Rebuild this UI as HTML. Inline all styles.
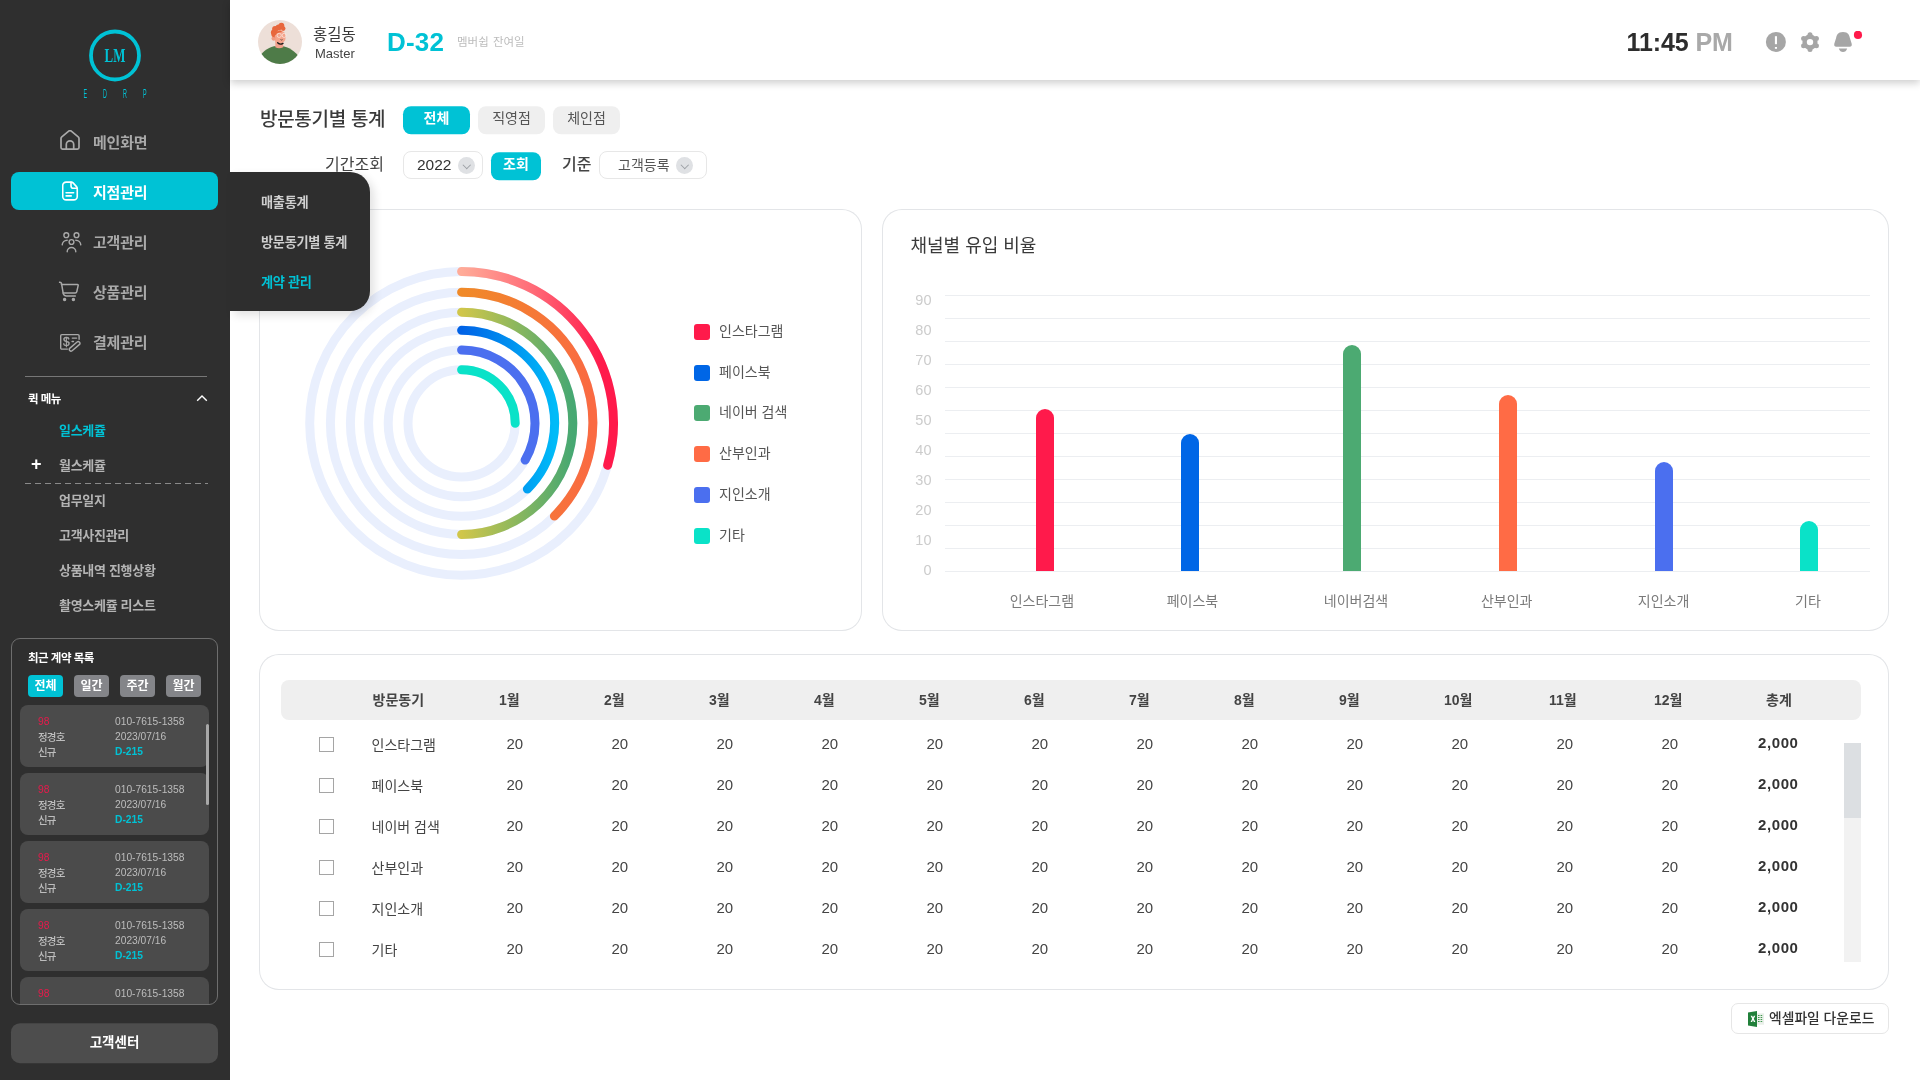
<!DOCTYPE html>
<html lang="ko">
<head>
<meta charset="utf-8">
<title>방문통기별 통계</title>
<style>
*{box-sizing:border-box;margin:0;padding:0}
html,body{width:1920px;height:1080px;overflow:hidden;background:#fff}
body{position:relative;will-change:transform;font-family:"Liberation Sans","Noto Sans CJK KR",sans-serif;color:#333}
.a{position:absolute}
.k{font-family:"Liberation Sans","Noto Sans CJK KR",sans-serif;transform:translateY(0.09em)}
.lk{font-family:"Liberation Sans","Noto Sans CJK KR",sans-serif}
/* sidebar */
#side{left:0;top:0;width:230px;height:1080px;background:#2f2f2f}
.nav{left:11px;width:207px;height:38px;border-radius:8px}
.nav.on{background:#00c2d5}
.nav svg{position:absolute;left:49.5px;top:9px}
.nav span{position:absolute;left:82px;top:1px;line-height:38px;font-size:15px;font-weight:700;color:#a9a9a9;letter-spacing:-0.2px}
.nav.on span{color:#fff}
.qm{left:59px;font-size:13px;font-weight:700;color:#b4b4b4;line-height:20px;letter-spacing:-0.3px}
.tab{top:674px;width:35px;height:22px;border-radius:4px;background:#848589;color:#fff;font-size:12px;font-weight:700;text-align:center;line-height:22px}
.card{left:8px;width:189px;height:62px;border-radius:8px;background:#4b4b4b}
.card div{position:absolute;font-size:11.5px;line-height:15px;color:#bdbdbd;font-weight:500;letter-spacing:0}
.card div.lk{transform:scaleX(0.89);transform-origin:0 0}
.card div.k{font-size:10.5px;letter-spacing:-0.8px}
/* popup */
#pop{left:230px;top:172px;width:140px;height:139px;background:#2e2e2e;border-radius:0 20px 20px 0;box-shadow:4px 4px 10px rgba(0,0,0,0.12)}
#pop div{position:absolute;left:31px;font-size:13.2px;font-weight:700;color:#cfcfcf;line-height:20px;letter-spacing:-0.3px}
.btn{width:67px;height:28px;border-radius:8px;background:#efefef;color:#555;font-size:14px;line-height:25px;text-align:center}
.btn.on{background:#00c2d5;color:#fff;font-weight:700}
.sel{height:28px;border:1px solid #e7e7e7;border-radius:8px;background:#fff}
.sel span{position:absolute;top:0;line-height:26px;color:#333}
.sel i{position:absolute;top:5px;width:17px;height:17px;border-radius:50%;background:#dfe1e4}
.sel i:after{content:"";position:absolute;left:5.5px;top:4.5px;width:4.5px;height:4.5px;border-right:1.2px solid #9a9ea3;border-bottom:1.2px solid #9a9ea3;transform:rotate(45deg)}
.cardbox{box-shadow:inset 0 0 0 1px #e3e5e8;border-radius:20px;background:#fff}
.lg{font-size:14px;line-height:22px;color:#555}
.xl{width:100px;text-align:center;font-size:14px;line-height:22px;color:#7a7a7a}
.th{font-size:14px;line-height:38px;font-weight:700;color:#444;white-space:nowrap}
.td{font-size:14px;line-height:22px;color:#444;white-space:nowrap}
.cb{width:15px;height:15px;border:1px solid #a5a5a5;background:#fff}
/* header */
#hdr{left:230px;top:0;width:1690px;height:80px;background:#fff;box-shadow:0 3px 8px rgba(0,0,0,0.2)}
</style>
</head>
<body>
<div id="side" class="a">
  <svg class="a" style="left:0;top:0" width="230" height="110">
    <circle cx="115" cy="55.5" r="24" fill="none" stroke="#00c2d5" stroke-width="3.8"/>
    <text x="115" y="62" text-anchor="middle" font-family="Liberation Serif,serif" font-weight="700" font-size="19" fill="#00c2d5" transform="translate(115 0) scale(0.68 1) translate(-115 0)">LM</text>
    <text transform="translate(83.6 98) scale(0.42 1)" font-family="Liberation Sans,sans-serif" font-size="12.8" fill="#00c2d5">E</text><text transform="translate(102.9 98) scale(0.42 1)" font-family="Liberation Sans,sans-serif" font-size="12.8" fill="#00c2d5">D</text><text transform="translate(122.9 98) scale(0.42 1)" font-family="Liberation Sans,sans-serif" font-size="12.8" fill="#00c2d5">R</text><text transform="translate(142.9 98) scale(0.42 1)" font-family="Liberation Sans,sans-serif" font-size="12.8" fill="#00c2d5">P</text>
  </svg>
  <div class="a nav" style="top:122px">
    <svg style="left:49px;top:8px" width="20" height="20" viewBox="0 0 20 20" fill="none" stroke="#a9a9a9" stroke-width="1.7" stroke-linejoin="round"><path d="M1 8.6 Q1 7.6 1.8 6.9 L9 0.95 Q10 0.2 11 0.95 L18.2 6.9 Q19 7.6 19 8.6 V17.6 Q19 19.1 17.5 19.1 H2.5 Q1 19.1 1 17.6 Z"/><path d="M6.3 19 V14.5 a3.7 3.7 0 0 1 7.4 0 V19"/></svg>
    <span class="k">메인화면</span>
  </div>
  <div class="a nav on" style="top:172px">
    <svg style="top:9px;left:51px" width="17" height="20" viewBox="0 0 17 20" fill="none" stroke="#fff" stroke-width="1.6" stroke-linejoin="round" stroke-linecap="round"><path d="M4.2 1.1 H9.2 Q10.3 1.1 11.1 1.9 L14.5 5.6 Q15.25 6.4 15.25 7.6 V15.4 A3.5 3.5 0 0 1 11.75 18.9 H4.2 A3.5 3.5 0 0 1 0.7 15.4 V4.6 A3.5 3.5 0 0 1 4.2 1.1 Z"/><path d="M9 1.3 V5 A2.3 2.3 0 0 0 11.3 7.3 H15"/><path d="M4.1 11.7 H11.6"/><path d="M4.1 14.9 H9.2"/></svg>
    <span class="k">지점관리</span>
  </div>
  <div class="a nav" style="top:222px">
    <svg width="21" height="22" viewBox="0 0 21 22" fill="none" stroke="#a9a9a9" stroke-width="1.4" stroke-linecap="round"><circle cx="5.3" cy="4.2" r="2.4"/><circle cx="15.5" cy="4.2" r="2.4"/><circle cx="10.5" cy="11" r="2.4"/><path d="M1.2 13.9 A5 5 0 0 1 6.2 9.3"/><path d="M14.8 9.3 A5 5 0 0 1 19.8 13.9"/><path d="M6.2 20.8 A4.3 4.3 0 0 1 14.8 20.8"/></svg>
    <span class="k">고객관리</span>
  </div>
  <div class="a nav" style="top:272px">
    <svg style="left:47px" width="21" height="21" viewBox="0 0 21 21" fill="none" stroke="#a9a9a9" stroke-width="1.5" stroke-linecap="round" stroke-linejoin="round"><path d="M1.6 1.3 Q3.2 1.1 3.6 2.8 L5.2 12.4 Q5.7 14.9 8.4 14.9 H17.3"/><path d="M3.4 3.6 H19.6 a0.6 0.6 0 0 1 0.6 0.7 L18.8 10.6 a1.6 1.6 0 0 1 -1.6 1.3 H5.2"/><circle cx="6.6" cy="18.5" r="1" fill="#a9a9a9"/><circle cx="15.4" cy="18.5" r="1" fill="#a9a9a9"/></svg>
    <span class="k">상품관리</span>
  </div>
  <div class="a nav" style="top:322px">
    <svg style="left:49px;top:11px" width="21" height="20" viewBox="0 0 21 20" fill="none" stroke="#a9a9a9" stroke-width="1.4" stroke-linecap="round" stroke-linejoin="round"><path d="M7.4 16.1 H1.9 Q0.7 16.1 0.7 14.9 V2.8 Q0.7 1.6 1.9 1.6 H17.9 Q19.1 1.6 19.1 2.8 V6.3"/><text x="3" y="13" font-family="Liberation Sans,sans-serif" font-size="12" fill="#a9a9a9" stroke="#a9a9a9" stroke-width="0.35">$</text><path d="M12.3 5.1 H16.6"/><path d="M12.1 8.5 H13.4"/><rect x="-6.4" y="-1.7" width="12.8" height="3.4" rx="1.7" transform="translate(14.6 13.4) rotate(-40.4)"/></svg>
    <span class="k">결제관리</span>
  </div>
  <div class="a" style="left:25px;top:376px;width:182px;height:1px;background:#777"></div>
  <div class="a k" style="left:28px;top:389.3px;font-size:11.5px;font-weight:700;color:#fff;line-height:18px;letter-spacing:-0.5px">퀵 메뉴</div>
  <svg class="a" style="left:196px;top:393px" width="12" height="10" viewBox="0 0 12 10" fill="none" stroke="#fff" stroke-width="1.4"><path d="M1.2 7.8 L6 3 L10.8 7.8"/></svg>
  <div class="a qm k" style="top:420px;color:#00c2d5">일스케쥴</div>
  <div class="a" style="left:31px;top:455px;font-size:18px;font-weight:700;color:#fff;line-height:18px">+</div>
  <div class="a qm k" style="top:455px">월스케쥴</div>
  <svg class="a" style="left:25px;top:483px" width="183" height="1"><line x1="0" y1="0.5" x2="183" y2="0.5" stroke="#8a8a8a" stroke-width="1" stroke-dasharray="6 4"/></svg>
  <div class="a qm k" style="top:490px">업무일지</div>
  <div class="a qm k" style="top:525px">고객사진관리</div>
  <div class="a qm k" style="top:560px">상품내역 진행상황</div>
  <div class="a qm k" style="top:595px">촬영스케쥴 리스트</div>

  <div class="a" style="left:11px;top:638px;width:207px;height:367px;border:1px solid #6e6e6e;border-radius:9px;overflow:hidden">
    <div class="a k" style="left:16px;top:9.5px;font-size:11.5px;font-weight:700;color:#fff;line-height:16px;letter-spacing:-0.5px">최근 계약 목록</div>
    <div class="a tab k" style="left:16px;top:35px;background:#00c2d5">전체</div>
    <div class="a tab k" style="left:62px;top:35px">일간</div>
    <div class="a tab k" style="left:108px;top:35px">주간</div>
    <div class="a tab k" style="left:154px;top:35px">월간</div>
    <div class="a card" style="top:66px">
      <div class="lk" style="left:18px;top:9px;color:#e8194b">98</div>
      <div class="k" style="left:18px;top:24px">정경호</div>
      <div class="k" style="left:18px;top:39px">신규</div>
      <div class="lk" style="left:94.5px;top:9px">010-7615-1358</div>
      <div class="lk" style="left:94.5px;top:24px">2023/07/16</div>
      <div class="lk" style="left:94.5px;top:39px;color:#00c2d5;font-weight:600">D-215</div>
    </div>
    <div class="a card" style="top:134px">
      <div class="lk" style="left:18px;top:9px;color:#e8194b">98</div>
      <div class="k" style="left:18px;top:24px">정경호</div>
      <div class="k" style="left:18px;top:39px">신규</div>
      <div class="lk" style="left:94.5px;top:9px">010-7615-1358</div>
      <div class="lk" style="left:94.5px;top:24px">2023/07/16</div>
      <div class="lk" style="left:94.5px;top:39px;color:#00c2d5;font-weight:600">D-215</div>
    </div>
    <div class="a card" style="top:202px">
      <div class="lk" style="left:18px;top:9px;color:#e8194b">98</div>
      <div class="k" style="left:18px;top:24px">정경호</div>
      <div class="k" style="left:18px;top:39px">신규</div>
      <div class="lk" style="left:94.5px;top:9px">010-7615-1358</div>
      <div class="lk" style="left:94.5px;top:24px">2023/07/16</div>
      <div class="lk" style="left:94.5px;top:39px;color:#00c2d5;font-weight:600">D-215</div>
    </div>
    <div class="a card" style="top:270px">
      <div class="lk" style="left:18px;top:9px;color:#e8194b">98</div>
      <div class="k" style="left:18px;top:24px">정경호</div>
      <div class="k" style="left:18px;top:39px">신규</div>
      <div class="lk" style="left:94.5px;top:9px">010-7615-1358</div>
      <div class="lk" style="left:94.5px;top:24px">2023/07/16</div>
      <div class="lk" style="left:94.5px;top:39px;color:#00c2d5;font-weight:600">D-215</div>
    </div>
    <div class="a card" style="top:338px">
      <div class="lk" style="left:18px;top:9px;color:#e8194b">98</div>
      <div class="lk" style="left:94.5px;top:9px">010-7615-1358</div>
    </div>
    <div class="a" style="left:194px;top:85px;width:3px;height:81px;border-radius:2px;background:#a8a8a8"></div>
  </div>
  <div class="a k" style="left:11px;top:1022px;width:207px;height:40px;border-radius:9px;background:#4d4d4d;color:#fff;font-size:13.5px;font-weight:700;text-align:center;line-height:40px">고객센터</div>
</div>

<div class="a cardbox" style="left:259px;top:209px;width:603px;height:422px">
<svg class="a" style="left:0;top:0" width="603" height="422"><defs>
<linearGradient id="g0" gradientUnits="userSpaceOnUse" x1="202.60000000000002" y1="0" x2="342.6" y2="0"><stop offset="0" stop-color="#ffab98"/><stop offset="0.5" stop-color="#ff6c78"/><stop offset="1" stop-color="#ff1a4b"/></linearGradient>
<linearGradient id="g1" gradientUnits="userSpaceOnUse" x1="202.60000000000002" y1="0" x2="332.6" y2="0"><stop offset="0" stop-color="#f08a28"/><stop offset="1" stop-color="#fa6a42"/></linearGradient>
<linearGradient id="g2" gradientUnits="userSpaceOnUse" x1="202.60000000000002" y1="0" x2="313.6" y2="0"><stop offset="0" stop-color="#d0c64a"/><stop offset="1" stop-color="#46a872"/></linearGradient>
<linearGradient id="g3" gradientUnits="userSpaceOnUse" x1="202.60000000000002" y1="0" x2="295.6" y2="0"><stop offset="0" stop-color="#0062e6"/><stop offset="1" stop-color="#00bbf8"/></linearGradient>
</defs>
<circle cx="202.60" cy="214.35" r="151.9" fill="none" stroke="#e9effd" stroke-width="9"/><circle cx="202.60" cy="214.35" r="131.2" fill="none" stroke="#e9effd" stroke-width="9"/><circle cx="202.60" cy="214.35" r="111.2" fill="none" stroke="#e9effd" stroke-width="9"/><circle cx="202.60" cy="214.35" r="93.0" fill="none" stroke="#e9effd" stroke-width="9"/><circle cx="202.60" cy="214.35" r="73.4" fill="none" stroke="#e9effd" stroke-width="9"/><circle cx="202.60" cy="214.35" r="53.6" fill="none" stroke="#e9effd" stroke-width="9"/><path d="M202.60 62.45 A151.9 151.9 0 0 1 348.62 256.22" fill="none" stroke="url(#g0)" stroke-width="9" stroke-linecap="round"/><path d="M202.60 83.15 A131.2 131.2 0 0 1 295.37 307.12" fill="none" stroke="url(#g1)" stroke-width="9" stroke-linecap="round"/><path d="M202.60 103.15 A111.2 111.2 0 0 1 313.80 214.35 A111.2 111.2 0 0 1 202.60 325.55" fill="none" stroke="url(#g2)" stroke-width="9" stroke-linecap="round"/><path d="M202.60 121.35 A93.0 93.0 0 0 1 268.36 280.11" fill="none" stroke="url(#g3)" stroke-width="9" stroke-linecap="round"/><path d="M202.60 140.95 A73.4 73.4 0 0 1 266.17 251.05" fill="none" stroke="#4b6fef" stroke-width="9" stroke-linecap="round"/><path d="M202.60 160.75 A53.6 53.6 0 0 1 256.20 214.35" fill="none" stroke="#0ae2c8" stroke-width="9" stroke-linecap="round"/>
</svg>
<div class="a" style="left:435px;top:115.0px;width:16px;height:16px;border-radius:3px;background:#ff1a4b"></div><div class="a k lg" style="left:460px;top:110.0px">인스타그램</div>
<div class="a" style="left:435px;top:155.7px;width:16px;height:16px;border-radius:3px;background:#0066e6"></div><div class="a k lg" style="left:460px;top:150.7px">페이스북</div>
<div class="a" style="left:435px;top:196.4px;width:16px;height:16px;border-radius:3px;background:#4caa72"></div><div class="a k lg" style="left:460px;top:191.4px">네이버 검색</div>
<div class="a" style="left:435px;top:237.1px;width:16px;height:16px;border-radius:3px;background:#ff6b45"></div><div class="a k lg" style="left:460px;top:232.1px">산부인과</div>
<div class="a" style="left:435px;top:277.8px;width:16px;height:16px;border-radius:3px;background:#4b6fef"></div><div class="a k lg" style="left:460px;top:272.8px">지인소개</div>
<div class="a" style="left:435px;top:318.5px;width:16px;height:16px;border-radius:3px;background:#0ae2c8"></div><div class="a k lg" style="left:460px;top:313.5px">기타</div>
</div>
<div class="a cardbox" style="left:882px;top:209px;width:1007px;height:422px">
<div class="a k" style="left:28.5px;top:21px;font-size:18px;line-height:28px;color:#3a3a3a">채널별 유입 비율</div>
<svg class="a" style="left:0;top:0" width="1007" height="422"><rect x="63" y="86" width="925" height="1" fill="#eceef1"/><rect x="63" y="109" width="925" height="1" fill="#eceef1"/><rect x="63" y="132" width="925" height="1" fill="#eceef1"/><rect x="63" y="155" width="925" height="1" fill="#eceef1"/><rect x="63" y="178" width="925" height="1" fill="#eceef1"/><rect x="63" y="201" width="925" height="1" fill="#eceef1"/><rect x="63" y="224" width="925" height="1" fill="#eceef1"/><rect x="63" y="247" width="925" height="1" fill="#eceef1"/><rect x="63" y="270" width="925" height="1" fill="#eceef1"/><rect x="63" y="293" width="925" height="1" fill="#eceef1"/><rect x="63" y="316" width="925" height="1" fill="#eceef1"/><rect x="63" y="339" width="925" height="1" fill="#eceef1"/><rect x="63" y="362" width="925" height="1" fill="#eceef1"/>
<g font-family="Liberation Sans,sans-serif" font-size="14.5" fill="#cccccc" transform="translate(-0.5 0.3)"><text x="50" y="95.3" text-anchor="end">90</text><text x="50" y="125.3" text-anchor="end">80</text><text x="50" y="155.3" text-anchor="end">70</text><text x="50" y="185.3" text-anchor="end">60</text><text x="50" y="215.3" text-anchor="end">50</text><text x="50" y="245.3" text-anchor="end">40</text><text x="50" y="275.3" text-anchor="end">30</text><text x="50" y="305.3" text-anchor="end">20</text><text x="50" y="335.3" text-anchor="end">10</text><text x="50" y="365.3" text-anchor="end">0</text></g>
<path d="M154 362 V209 a9 9 0 0 1 18 0 V362 Z" fill="#ff1a4b"/><path d="M299 362 V234 a9 9 0 0 1 18 0 V362 Z" fill="#0066e6"/><path d="M461 362 V145 a9 9 0 0 1 18 0 V362 Z" fill="#4caa72"/><path d="M617 362 V195 a9 9 0 0 1 18 0 V362 Z" fill="#ff6b45"/><path d="M773 362 V262 a9 9 0 0 1 18 0 V362 Z" fill="#4b6fef"/><path d="M918 362 V321 a9 9 0 0 1 18 0 V362 Z" fill="#0ae2c8"/></svg>
<div class="a k xl" style="left:109.9px;top:380.0px">인스타그램</div><div class="a k xl" style="left:260.5px;top:380.0px">페이스북</div><div class="a k xl" style="left:424.0px;top:380.0px">네이버검색</div><div class="a k xl" style="left:574.7px;top:380.0px">산부인과</div><div class="a k xl" style="left:731.6px;top:380.0px">지인소개</div><div class="a k xl" style="left:875.9px;top:380.0px">기타</div>
</div>
<div class="a cardbox" style="left:259px;top:654px;width:1630px;height:336px">
<div class="a" style="left:22px;top:26px;width:1580px;height:40px;border-radius:8px;background:#efefef"></div><div class="a k th" style="left:113.5px;top:26px">방문동기</div><div class="a k th" style="left:240px;top:26px">1월</div><div class="a k th" style="left:345px;top:26px">2월</div><div class="a k th" style="left:450px;top:26px">3월</div><div class="a k th" style="left:555px;top:26px">4월</div><div class="a k th" style="left:660px;top:26px">5월</div><div class="a k th" style="left:765px;top:26px">6월</div><div class="a k th" style="left:870px;top:26px">7월</div><div class="a k th" style="left:975px;top:26px">8월</div><div class="a k th" style="left:1080px;top:26px">9월</div><div class="a k th" style="left:1185px;top:26px">10월</div><div class="a k th" style="left:1290px;top:26px">11월</div><div class="a k th" style="left:1395px;top:26px">12월</div><div class="a k th" style="left:1479.9px;width:80px;text-align:center;top:26px">총계</div><div class="a cb" style="left:60px;top:82.5px"></div><div class="a k td" style="left:112.5px;top:79px">인스타그램</div><div class="a lk td" style="font-size:15px;left:247.4px;top:79px">20</div><div class="a lk td" style="font-size:15px;left:352.4px;top:79px">20</div><div class="a lk td" style="font-size:15px;left:457.4px;top:79px">20</div><div class="a lk td" style="font-size:15px;left:562.4px;top:79px">20</div><div class="a lk td" style="font-size:15px;left:667.4px;top:79px">20</div><div class="a lk td" style="font-size:15px;left:772.4px;top:79px">20</div><div class="a lk td" style="font-size:15px;left:877.4px;top:79px">20</div><div class="a lk td" style="font-size:15px;left:982.4px;top:79px">20</div><div class="a lk td" style="font-size:15px;left:1087.4px;top:79px">20</div><div class="a lk td" style="font-size:15px;left:1192.4px;top:79px">20</div><div class="a lk td" style="font-size:15px;left:1297.4px;top:79px">20</div><div class="a lk td" style="font-size:15px;left:1402.4px;top:79px">20</div><div class="a lk td" style="font-size:15px;left:1479.3px;width:80px;text-align:center;font-weight:700;color:#333;letter-spacing:0.6px;top:78px">2,000</div>
<div class="a cb" style="left:60px;top:123.5px"></div><div class="a k td" style="left:112.5px;top:120px">페이스북</div><div class="a lk td" style="font-size:15px;left:247.4px;top:120px">20</div><div class="a lk td" style="font-size:15px;left:352.4px;top:120px">20</div><div class="a lk td" style="font-size:15px;left:457.4px;top:120px">20</div><div class="a lk td" style="font-size:15px;left:562.4px;top:120px">20</div><div class="a lk td" style="font-size:15px;left:667.4px;top:120px">20</div><div class="a lk td" style="font-size:15px;left:772.4px;top:120px">20</div><div class="a lk td" style="font-size:15px;left:877.4px;top:120px">20</div><div class="a lk td" style="font-size:15px;left:982.4px;top:120px">20</div><div class="a lk td" style="font-size:15px;left:1087.4px;top:120px">20</div><div class="a lk td" style="font-size:15px;left:1192.4px;top:120px">20</div><div class="a lk td" style="font-size:15px;left:1297.4px;top:120px">20</div><div class="a lk td" style="font-size:15px;left:1402.4px;top:120px">20</div><div class="a lk td" style="font-size:15px;left:1479.3px;width:80px;text-align:center;font-weight:700;color:#333;letter-spacing:0.6px;top:119px">2,000</div>
<div class="a cb" style="left:60px;top:164.5px"></div><div class="a k td" style="left:112.5px;top:161px">네이버 검색</div><div class="a lk td" style="font-size:15px;left:247.4px;top:161px">20</div><div class="a lk td" style="font-size:15px;left:352.4px;top:161px">20</div><div class="a lk td" style="font-size:15px;left:457.4px;top:161px">20</div><div class="a lk td" style="font-size:15px;left:562.4px;top:161px">20</div><div class="a lk td" style="font-size:15px;left:667.4px;top:161px">20</div><div class="a lk td" style="font-size:15px;left:772.4px;top:161px">20</div><div class="a lk td" style="font-size:15px;left:877.4px;top:161px">20</div><div class="a lk td" style="font-size:15px;left:982.4px;top:161px">20</div><div class="a lk td" style="font-size:15px;left:1087.4px;top:161px">20</div><div class="a lk td" style="font-size:15px;left:1192.4px;top:161px">20</div><div class="a lk td" style="font-size:15px;left:1297.4px;top:161px">20</div><div class="a lk td" style="font-size:15px;left:1402.4px;top:161px">20</div><div class="a lk td" style="font-size:15px;left:1479.3px;width:80px;text-align:center;font-weight:700;color:#333;letter-spacing:0.6px;top:160px">2,000</div>
<div class="a cb" style="left:60px;top:205.5px"></div><div class="a k td" style="left:112.5px;top:202px">산부인과</div><div class="a lk td" style="font-size:15px;left:247.4px;top:202px">20</div><div class="a lk td" style="font-size:15px;left:352.4px;top:202px">20</div><div class="a lk td" style="font-size:15px;left:457.4px;top:202px">20</div><div class="a lk td" style="font-size:15px;left:562.4px;top:202px">20</div><div class="a lk td" style="font-size:15px;left:667.4px;top:202px">20</div><div class="a lk td" style="font-size:15px;left:772.4px;top:202px">20</div><div class="a lk td" style="font-size:15px;left:877.4px;top:202px">20</div><div class="a lk td" style="font-size:15px;left:982.4px;top:202px">20</div><div class="a lk td" style="font-size:15px;left:1087.4px;top:202px">20</div><div class="a lk td" style="font-size:15px;left:1192.4px;top:202px">20</div><div class="a lk td" style="font-size:15px;left:1297.4px;top:202px">20</div><div class="a lk td" style="font-size:15px;left:1402.4px;top:202px">20</div><div class="a lk td" style="font-size:15px;left:1479.3px;width:80px;text-align:center;font-weight:700;color:#333;letter-spacing:0.6px;top:201px">2,000</div>
<div class="a cb" style="left:60px;top:246.5px"></div><div class="a k td" style="left:112.5px;top:243px">지인소개</div><div class="a lk td" style="font-size:15px;left:247.4px;top:243px">20</div><div class="a lk td" style="font-size:15px;left:352.4px;top:243px">20</div><div class="a lk td" style="font-size:15px;left:457.4px;top:243px">20</div><div class="a lk td" style="font-size:15px;left:562.4px;top:243px">20</div><div class="a lk td" style="font-size:15px;left:667.4px;top:243px">20</div><div class="a lk td" style="font-size:15px;left:772.4px;top:243px">20</div><div class="a lk td" style="font-size:15px;left:877.4px;top:243px">20</div><div class="a lk td" style="font-size:15px;left:982.4px;top:243px">20</div><div class="a lk td" style="font-size:15px;left:1087.4px;top:243px">20</div><div class="a lk td" style="font-size:15px;left:1192.4px;top:243px">20</div><div class="a lk td" style="font-size:15px;left:1297.4px;top:243px">20</div><div class="a lk td" style="font-size:15px;left:1402.4px;top:243px">20</div><div class="a lk td" style="font-size:15px;left:1479.3px;width:80px;text-align:center;font-weight:700;color:#333;letter-spacing:0.6px;top:242px">2,000</div>
<div class="a cb" style="left:60px;top:287.5px"></div><div class="a k td" style="left:112.5px;top:284px">기타</div><div class="a lk td" style="font-size:15px;left:247.4px;top:284px">20</div><div class="a lk td" style="font-size:15px;left:352.4px;top:284px">20</div><div class="a lk td" style="font-size:15px;left:457.4px;top:284px">20</div><div class="a lk td" style="font-size:15px;left:562.4px;top:284px">20</div><div class="a lk td" style="font-size:15px;left:667.4px;top:284px">20</div><div class="a lk td" style="font-size:15px;left:772.4px;top:284px">20</div><div class="a lk td" style="font-size:15px;left:877.4px;top:284px">20</div><div class="a lk td" style="font-size:15px;left:982.4px;top:284px">20</div><div class="a lk td" style="font-size:15px;left:1087.4px;top:284px">20</div><div class="a lk td" style="font-size:15px;left:1192.4px;top:284px">20</div><div class="a lk td" style="font-size:15px;left:1297.4px;top:284px">20</div><div class="a lk td" style="font-size:15px;left:1402.4px;top:284px">20</div><div class="a lk td" style="font-size:15px;left:1479.3px;width:80px;text-align:center;font-weight:700;color:#333;letter-spacing:0.6px;top:283px">2,000</div>
<div class="a" style="left:1585px;top:89px;width:17px;height:219px;background:#f2f2f2"></div><div class="a" style="left:1585px;top:89px;width:17px;height:75px;background:#dcdfe2"></div>
</div>
<div class="a" style="left:1731px;top:1003px;width:158px;height:31px;border:1px solid #e6e6e6;border-radius:7px;background:#fff">
<svg class="a" style="left:16px;top:7px" width="17" height="16" viewBox="0 0 17 16"><rect x="7" y="2.3" width="9" height="11.4" fill="#e9efe9"/><g fill="#3f9a4e"><rect x="10" y="4" width="1.6" height="1"/><rect x="12.6" y="4" width="1.6" height="1"/><rect x="10" y="6" width="1.6" height="1"/><rect x="12.6" y="6" width="1.6" height="1"/><rect x="10" y="8" width="1.6" height="1"/><rect x="12.6" y="8" width="1.6" height="1"/><rect x="10" y="10" width="1.6" height="1"/><rect x="12.6" y="10" width="1.6" height="1"/></g><path d="M0 1.6 L9 0 V16 L0 14.4 Z" fill="#21803a"/><path d="M2.6 4.8 L4.2 4.8 L5 6.6 L5.8 4.8 L7.3 4.8 L5.8 7.8 L7.4 10.9 L5.8 10.9 L5 9.1 L4.1 10.9 L2.6 10.9 L4.2 7.8 Z" fill="#fff"/></svg>
<div class="a k" style="left:37px;top:2.5px;font-size:13.8px;line-height:22px;font-weight:500;color:#333;white-space:nowrap">엑셀파일 다운로드</div>
</div>
<div id="pop" class="a">
  <div class="k" style="top:19.5px">매출통계</div>
  <div class="k" style="top:59.5px">방문동기별 통계</div>
  <div class="k" style="top:99.5px;color:#00c2d5">계약 관리</div>
</div>

<div id="hdr" class="a">
  <svg class="a" style="left:28px;top:20px" width="44" height="44" viewBox="0 0 44 44">
    <defs><clipPath id="av"><circle cx="22" cy="22" r="22"/></clipPath></defs>
    <g clip-path="url(#av)">
      <rect width="44" height="44" fill="#eddfd8"/>
      <path d="M2.5 35 C8 28.5 14 26 21 25.8 C28 26 34.5 29 40.5 36 L40 44 L3 44 Z" fill="#4e7b48"/>
      <path d="M17.3 20 H25.2 V27.3 Q21 29 17.3 27.3 Z" fill="#f2a08b"/>
      <ellipse cx="21.8" cy="17" rx="5.9" ry="6.8" fill="#f4a48c"/>
      <circle cx="15.6" cy="18.6" r="2.1" fill="#f09a83"/>
      <g fill="#e8673d">
        <circle cx="15.8" cy="12.4" r="2.9"/><circle cx="17.2" cy="9" r="3.1"/><circle cx="20.6" cy="7.6" r="3"/>
        <circle cx="23.4" cy="5.6" r="2.9"/><circle cx="25.2" cy="8.6" r="2.3"/><circle cx="15.2" cy="15" r="1.8"/>
        <path d="M14 12 Q18 11.5 23 10.5 L24 12 Q19 12.5 16.8 14.5 L16.6 17.6 L14.2 16.4 Z"/>
      </g>
      <circle cx="21.2" cy="15.4" r="2.1" fill="none" stroke="#fbe9e2" stroke-width="0.7"/>
      <circle cx="26.2" cy="15.4" r="2.1" fill="none" stroke="#fbe9e2" stroke-width="0.7"/>
      <path d="M19.6 22.8 Q22 25.2 25 23.4" stroke="#1d1d1d" stroke-width="1.3" fill="none" stroke-linecap="round"/>
      <path d="M22.5 19.5 Q23.5 20.6 24.6 19.6" stroke="#1d1d1d" stroke-width="0.6" fill="none"/>
    </g>
  </svg>
  <div class="a k" style="left:83px;top:21.5px;font-size:15.5px;line-height:24px;color:#3a3a3a">홍길동</div>
  <div class="a lk" style="left:85px;top:45.5px;font-size:13px;line-height:16px;color:#444">Master</div>
  <div class="a lk" style="left:157px;top:27px;font-size:26px;line-height:30px;font-weight:700;color:#00c2d5;letter-spacing:0.2px">D-32</div>
  <div class="a k" style="left:227px;top:32px;font-size:11.5px;line-height:18px;color:#bcbcbc;word-spacing:1px">멤버쉽 잔여일</div>
  <div class="a lk" style="left:1396.5px;top:27px;font-size:25px;letter-spacing:-0.1px;line-height:30px;font-weight:700;color:#2d2d2d">11:45 <span style="color:#a9a9a9">PM</span></div>
  <svg class="a" style="left:1535px;top:31px" width="22" height="22" viewBox="0 0 22 22"><circle cx="10.9" cy="10.9" r="10" fill="#a6a6a6"/><rect x="9.9" y="5.2" width="2.1" height="8" fill="#fff"/><rect x="9.9" y="16" width="2.1" height="1.8" fill="#fff"/></svg>
  <svg class="a" style="left:1570px;top:31px" width="21" height="22" viewBox="0 0 21 22"><g fill="#a6a6a6"><circle cx="10" cy="11.1" r="7.6"/><circle cx="10.00" cy="3.70" r="2.5"/><circle cx="16.41" cy="7.40" r="2.5"/><circle cx="16.41" cy="14.80" r="2.5"/><circle cx="10.00" cy="18.50" r="2.5"/><circle cx="3.59" cy="14.80" r="2.5"/><circle cx="3.59" cy="7.40" r="2.5"/></g><circle cx="10" cy="11.1" r="3.2" fill="#fff"/></svg>
  <svg class="a" style="left:1603px;top:31px" width="30" height="22" viewBox="0 0 30 22"><path fill="#a6a6a6" d="M10 0.9 C4.6 0.9 3.6 4.2 3.1 7 L1.3 12.8 Q0.7 15.8 3.4 15.8 H16.6 Q19.3 15.8 18.7 12.8 L16.9 7 C16.4 4.2 15.4 0.9 10 0.9 Z"/><path fill="#a6a6a6" d="M5.8 17.5 H14.2 Q13 21 10 21 Q7 21 5.8 17.5 Z"/><circle cx="25" cy="3.9" r="4.1" fill="#ff1a4b"/></svg>
</div>

<div class="a k" style="left:260px;top:104px;font-size:19px;line-height:28px;font-weight:500;color:#3a3a3a;letter-spacing:-0.3px">방문통기별 통계</div>
<div class="a btn on k" style="left:403px;top:105px">전체</div>
<div class="a btn k" style="left:478px;top:105px">직영점</div>
<div class="a btn k" style="left:553px;top:105px">체인점</div>
<div class="a k" style="left:325px;top:152px;font-size:16px;line-height:24px;color:#444">기간조회</div>
<div class="a sel" style="left:403px;top:151px;width:80px"><span class="lk" style="left:13px;font-size:15.5px">2022</span><i style="left:54px"></i></div>
<div class="a btn on k" style="left:491px;top:151px;width:50px;height:28px;line-height:25.5px">조회</div>
<div class="a k" style="left:562px;top:152px;font-size:16px;line-height:24px;color:#444;font-weight:500">기준</div>
<div class="a sel" style="left:599px;top:151px;width:108px"><span class="k" style="left:18px;top:-1px;font-size:14px;color:#555">고객등록</span><i style="left:76px"></i></div>
</body>
</html>
